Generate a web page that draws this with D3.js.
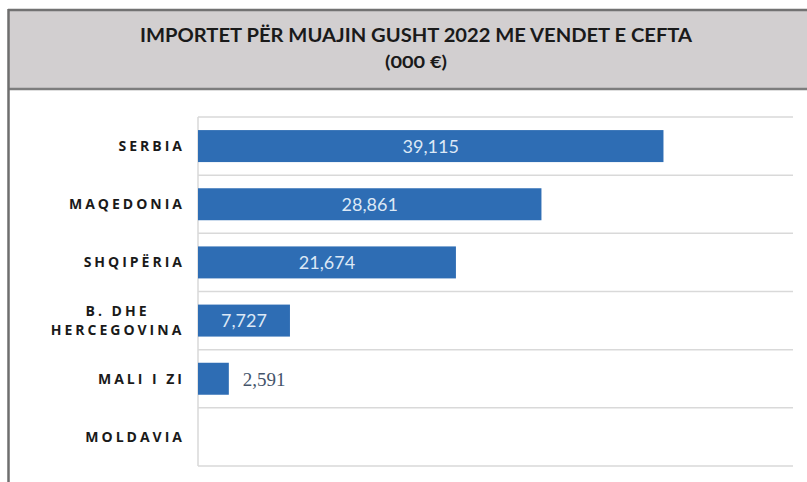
<!DOCTYPE html>
<html>
<head>
<meta charset="utf-8">
<script src="https://cdn.jsdelivr.net/npm/d3@7"></script>
<style>
  html, body { margin: 0; padding: 0; background: #fff; }
  svg { display: block; }
</style>
</head>
<body>
<svg id="chart" width="807" height="482"></svg>
<script>
// data
const countries = [['SERBIA'], ['MAQEDONIA'], ['SHQIPËRIA'], ['B. DHE', 'HERCEGOVINA'], ['MALI I ZI'], ['MOLDAVIA']];
const imports = [39115, 28861, 21674, 7727, 2591, null];
const titleLines = ['IMPORTET PËR MUAJIN GUSHT 2022 ME VENDET E CEFTA', '(000 €)'];
const xMax = 50000;

const W = 807, H = 482;
const svg = d3.select('#chart');

// title band + frame
svg.append('rect').attr('x', 9).attr('y', 10).attr('width', W - 9).attr('height', 79)
  .attr('fill', '#d2cfd0');
svg.append('line').attr('x1', 8).attr('x2', W).attr('y1', 10).attr('y2', 10)
  .attr('stroke', '#727272').attr('stroke-width', 2.5);
svg.append('line').attr('x1', 8).attr('x2', W).attr('y1', 89).attr('y2', 89)
  .attr('stroke', '#7d7d7d').attr('stroke-width', 2.5);
svg.append('line').attr('x1', 8.5).attr('x2', 8.5).attr('y1', 9).attr('y2', H)
  .attr('stroke', '#6e6e6e').attr('stroke-width', 2.5);

const title = svg.append('g')
  .attr('font-family', 'Lato, "Open Sans", sans-serif')
  .attr('font-weight', 700).attr('fill', '#1a1a1a')
  .attr('text-anchor', 'middle');
title.append('text').attr('x', 416).attr('y', 42).attr('font-size', 19.5)
  .attr('textLength', 552).attr('lengthAdjust', 'spacingAndGlyphs')
  .text(titleLines[0]);
title.append('text').attr('x', 416).attr('y', 68).attr('font-size', 17.5)
  .attr('textLength', 62).attr('lengthAdjust', 'spacingAndGlyphs')
  .text(titleLines[1]);

// plot
const margin = { left: 198, right: 793, top: 117, bottom: 466 };
const x = d3.scaleLinear().domain([0, xMax]).range([margin.left, margin.right]);
const y = d3.scaleBand().domain(d3.range(countries.length))
  .range([margin.top, margin.bottom]).paddingInner(0.45).paddingOuter(0.225);

// gridlines at band edges
const edges = d3.range(countries.length + 1).map(i => margin.top + i * y.step());
svg.append('g').selectAll('line').data(edges).join('line')
  .attr('x1', margin.left).attr('x2', margin.right)
  .attr('y1', d => d).attr('y2', d => d)
  .attr('stroke', '#d9d9d9').attr('stroke-width', 1.5);
svg.append('line').attr('x1', margin.left).attr('x2', margin.left)
  .attr('y1', margin.top).attr('y2', margin.bottom)
  .attr('stroke', '#d9d9d9').attr('stroke-width', 1.5);

const rows = imports.map((v, i) => ({ i, v })).filter(d => d.v != null);
const inside = d => x(d.v) - x(0) > 60;

svg.append('g').selectAll('rect').data(rows).join('rect')
  .attr('x', x(0)).attr('y', d => y(d.i))
  .attr('width', d => x(d.v) - x(0)).attr('height', y.bandwidth())
  .attr('fill', '#2e6db4');

const fmt = d3.format(',');
svg.append('g').selectAll('text').data(rows).join('text')
  .attr('x', d => (inside(d) ? (x(0) + x(d.v)) / 2 : x(d.v) + 14))
  .attr('y', d => y(d.i) + y.bandwidth() / 2)
  .attr('dy', '0.36em')
  .attr('text-anchor', d => (inside(d) ? 'middle' : 'start'))
  .attr('font-family', d => (inside(d) ? 'Lato, sans-serif' : '"Liberation Serif", serif'))
  .attr('font-size', d => (inside(d) ? 18 : 19))
  .attr('fill', d => (inside(d) ? '#dce8f6' : '#44546a'))
  .text(d => fmt(d.v));

// category labels
const ls = 3;
const lab = svg.append('g')
  .attr('font-family', '"Open Sans", sans-serif').attr('font-weight', 700)
  .attr('font-size', 14).attr('letter-spacing', ls).attr('fill', '#1a1a1a');
countries.forEach((lines, i) => {
  const cy = y(i) + y.bandwidth() / 2;
  const multi = lines.length > 1;
  const t = lab.append('text')
    .attr('text-anchor', multi ? 'middle' : 'end')
    .attr('y', cy - (lines.length - 1) * 9.5);
  lines.forEach((s, k) => {
    t.append('tspan').attr('x', multi ? 116 + ls / 2 : 182 + ls)
      .attr('dy', k === 0 ? '0.36em' : 19).text(s);
  });
});
</script>
</body>
</html>
